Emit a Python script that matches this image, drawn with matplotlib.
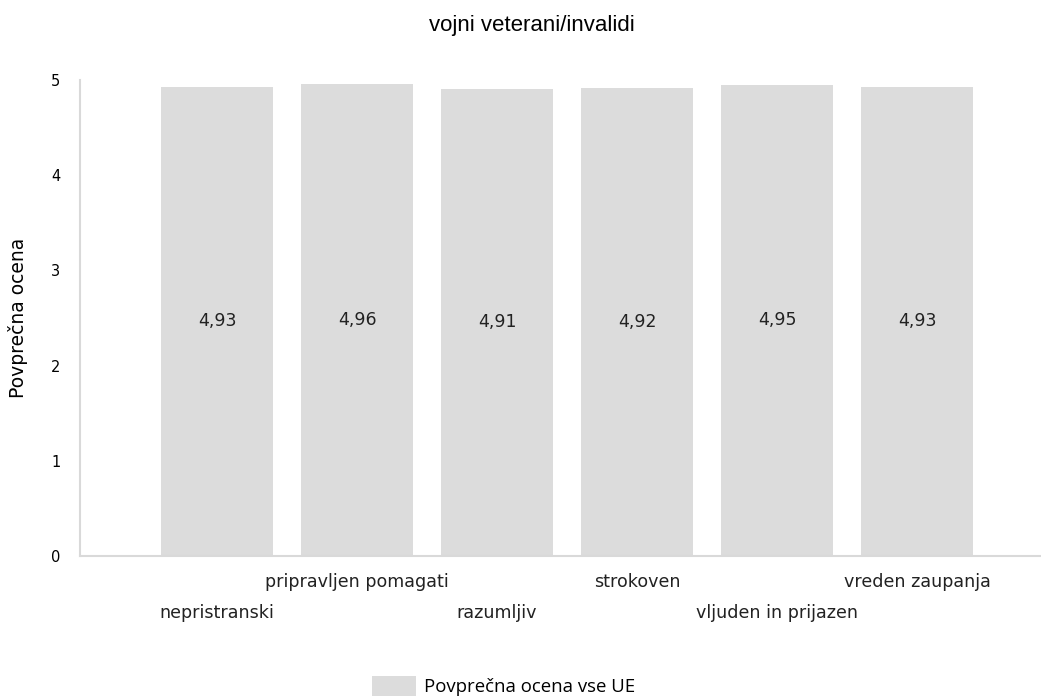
import matplotlib
matplotlib.use("Agg")
import matplotlib.pyplot as plt
import numpy as np

# podatki
categories = ["nepristranski", "pripravljen pomagati", "razumljiv",
              "strokoven", "vljuden in prijazen", "vreden zaupanja"]
values = [4.93, 4.96, 4.91, 4.92, 4.95, 4.93]
series_name = "Povprečna ocena vse UE"

bar_color = "#dcdcdc"
axis_color = "#d9d9d9"

fig = plt.figure(figsize=(10.41, 7), dpi=100)
ax = fig.add_axes([0.0768, 0.2057, 0.9232, 0.68])

x = np.arange(len(categories))
bars = ax.bar(x, values, width=0.8, color=bar_color, label=series_name)

# vrednosti na sredini stolpcev
for xi, v in zip(x, values):
    ax.text(xi, v / 2, f"{v:.2f}".replace(".", ","), ha="center", va="center",
            fontsize=12.5, color="#222222")

ax.set_xlim(-0.98, 5.886)
ax.set_ylim(0, 5)
ax.set_yticks(range(6))
ax.tick_params(axis="y", length=0, pad=14, labelsize=10.5)
ax.set_xticks([])

# zamaknjene oznake kategorij
for i, name in enumerate(categories):
    ty = -0.27 if i % 2 else -0.6
    ax.text(i, ty, name, ha="center", va="center", fontsize=12.6, color="#222222")

for s in ["top", "right"]:
    ax.spines[s].set_visible(False)
for s in ["left", "bottom"]:
    ax.spines[s].set_color(axis_color)
    ax.spines[s].set_linewidth(1.5)

ax.set_ylabel("Povprečna ocena", fontsize=13.5, family="DejaVu Sans")
ax.yaxis.set_label_coords(-0.054, 0.5)
fig.suptitle("vojni veterani/invalidi", fontsize=16, x=0.511, y=0.978,
             family="Liberation Sans", fontstretch="condensed")

fig.legend(handles=[bars], labels=[series_name], loc="center",
           bbox_to_anchor=(0.484, 0.02), frameon=False, handlelength=2.37,
           handleheight=1.25, handletextpad=0.43,
           prop={"family": "Open Sans", "size": 13.4})

fig.savefig("out.png", dpi=100)
